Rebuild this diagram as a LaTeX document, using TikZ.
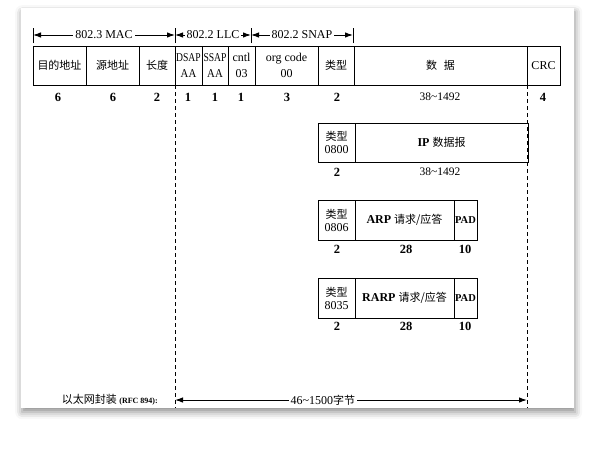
\documentclass[tikz,border=0pt]{standalone}
\usepackage{fontspec}
\setmainfont{Liberation Serif}
\newfontfamily\cjk{Noto Sans CJK SC}
\newcommand\zh[1]{{\cjk\fontsize{11}{12.5}\selectfont #1}}
\usetikzlibrary{arrows.meta,shadows.blur}
\begin{document}
\begin{tikzpicture}[x=1pt,y=-1pt,
  fld/.style={draw,line width=1pt,inner sep=0pt,outer sep=0pt,anchor=north west,
              minimum height=39,align=center,font=\fontsize{12}{13}\selectfont},
  num/.style={font=\fontsize{12.5}{13}\selectfont\bfseries,inner sep=0pt},
  rng/.style={font=\fontsize{11.5}{12}\selectfont,inner sep=0pt},
  lbl/.style={font=\fontsize{12}{13}\selectfont,fill=white,inner sep=2pt},
  dimarr/.style={line width=1pt,{Latex[length=8pt,width=5.5pt]}-{Latex[length=8pt,width=5.5pt]}},
  barline/.style={line width=1pt},
  guide/.style={line width=0.8pt,dash pattern=on 4pt off 3pt},
  padbox/.style={fld,minimum width=23,minimum height=40,font=\fontsize{10.5}{12}\selectfont\bfseries}
  ]
\useasboundingbox (0,0) rectangle (616,450);
\node[fill=white,inner sep=0pt,minimum width=553,minimum height=400,anchor=north west,
      blur shadow={shadow xshift=1pt,shadow yshift=-4pt,shadow blur radius=7pt,shadow opacity=45}] (card) at (21,8) {};

% top dimension arrows
\coordinate (b0) at (33,35); \coordinate (b1) at (175,35);
\coordinate (b2) at (251,35); \coordinate (b3) at (353,35);
\foreach \c in {b0,b1,b2,b3} \draw[barline] ([yshift=-8]\c) -- ([yshift=7]\c);
\draw[dimarr] (b0) -- (b1) node[lbl,midway] {802.3 MAC};
\draw[dimarr] (b1) -- (b2) node[lbl,midway] {802.2 LLC};
\draw[dimarr] (b2) -- (b3) node[lbl,midway] {802.2 SNAP};

% dashed guides
\coordinate (d1t) at (175,85); \coordinate (d1b) at (175,408);
\coordinate (d2t) at (527,85); \coordinate (d2b) at (527,408);
\draw[guide] (d1t) -- (d1b);
\draw[guide] (d2t) -- (d2b);

% main frame
\node[fld,minimum width=53] (dst) at (33,46) {\zh{目的地址}};
\node[fld,minimum width=53] (src) at (86,46) {\zh{源地址}};
\node[fld,minimum width=36] (len) at (139,46) {\zh{长度}};
\node[fld,minimum width=27] (dsap) at (175,46) {\scalebox{0.8}[1]{DSAP}\\[3pt]\scalebox{0.9}[1]{AA}};
\node[fld,minimum width=26] (ssap) at (202,46) {\scalebox{0.8}[1]{SSAP}\\[3pt]\scalebox{0.9}[1]{AA}};
\node[fld,minimum width=27] (cntl) at (228,46) {cntl\\[3pt]03};
\node[fld,minimum width=63] (org) at (255,46) {org code\\[3pt]00};
\node[fld,minimum width=36] (typ) at (318,46) {\zh{类型}};
\node[fld,minimum width=173] (data) at (354,46) {\zh{数\hspace{0.6em}据}};
\node[fld,minimum width=33] (crc) at (527,46) {CRC};

\node[num] at (58,97) {6};
\node[num] at (113,97) {6};
\node[num] at (157,97) {2};
\node[num] at (188,97) {1};
\node[num] at (215,97) {1};
\node[num] at (241,97) {1};
\node[num] at (287,97) {3};
\node[num] at (337,97) {2};
\node[rng] at (440,97) {38\textasciitilde1492};
\node[num] at (543,97) {4};

% IP
\node[fld,minimum width=37] (iptyp) at (318,123) {\zh{类型}\\0800};
\node[fld,minimum width=173] (ipdata) at (355,123) {\textbf{IP} \zh{数据报}};
\node[num] at (337,172) {2};
\node[rng] at (440,172) {38\textasciitilde1492};

% ARP
\node[fld,minimum width=37,minimum height=40] (arptyp) at (318,200) {\zh{类型}\\0806};
\node[fld,minimum width=99,minimum height=40] (arpdata) at (355,200) {\textbf{ARP} \zh{请求/应答}};
\node[padbox] (arppad) at (454,200) {PAD};
\node[num] at (337,249) {2};
\node[num] at (406,249) {28};
\node[num] at (465,249) {10};

% RARP
\node[fld,minimum width=37,minimum height=40] (rarptyp) at (318,278) {\zh{类型}\\8035};
\node[fld,minimum width=99,minimum height=40] (rarpdata) at (355,278) {\textbf{RARP} \zh{请求/应答}};
\node[padbox] (rarppad) at (454,278) {PAD};
\node[num] at (337,326) {2};
\node[num] at (406,326) {28};
\node[num] at (465,326) {10};

% bottom
\node[anchor=east,inner sep=0pt] (enc) at (158,400) {\zh{以太网封装} {\fontsize{8}{9}\selectfont\bfseries (RFC 894):}};
\coordinate (a1) at (175,400); \coordinate (a2) at (527,400);
\draw[dimarr] (a1) -- (a2) node[lbl,pos=0.42] {46\textasciitilde1500\zh{字节}};
\end{tikzpicture}
\end{document}
